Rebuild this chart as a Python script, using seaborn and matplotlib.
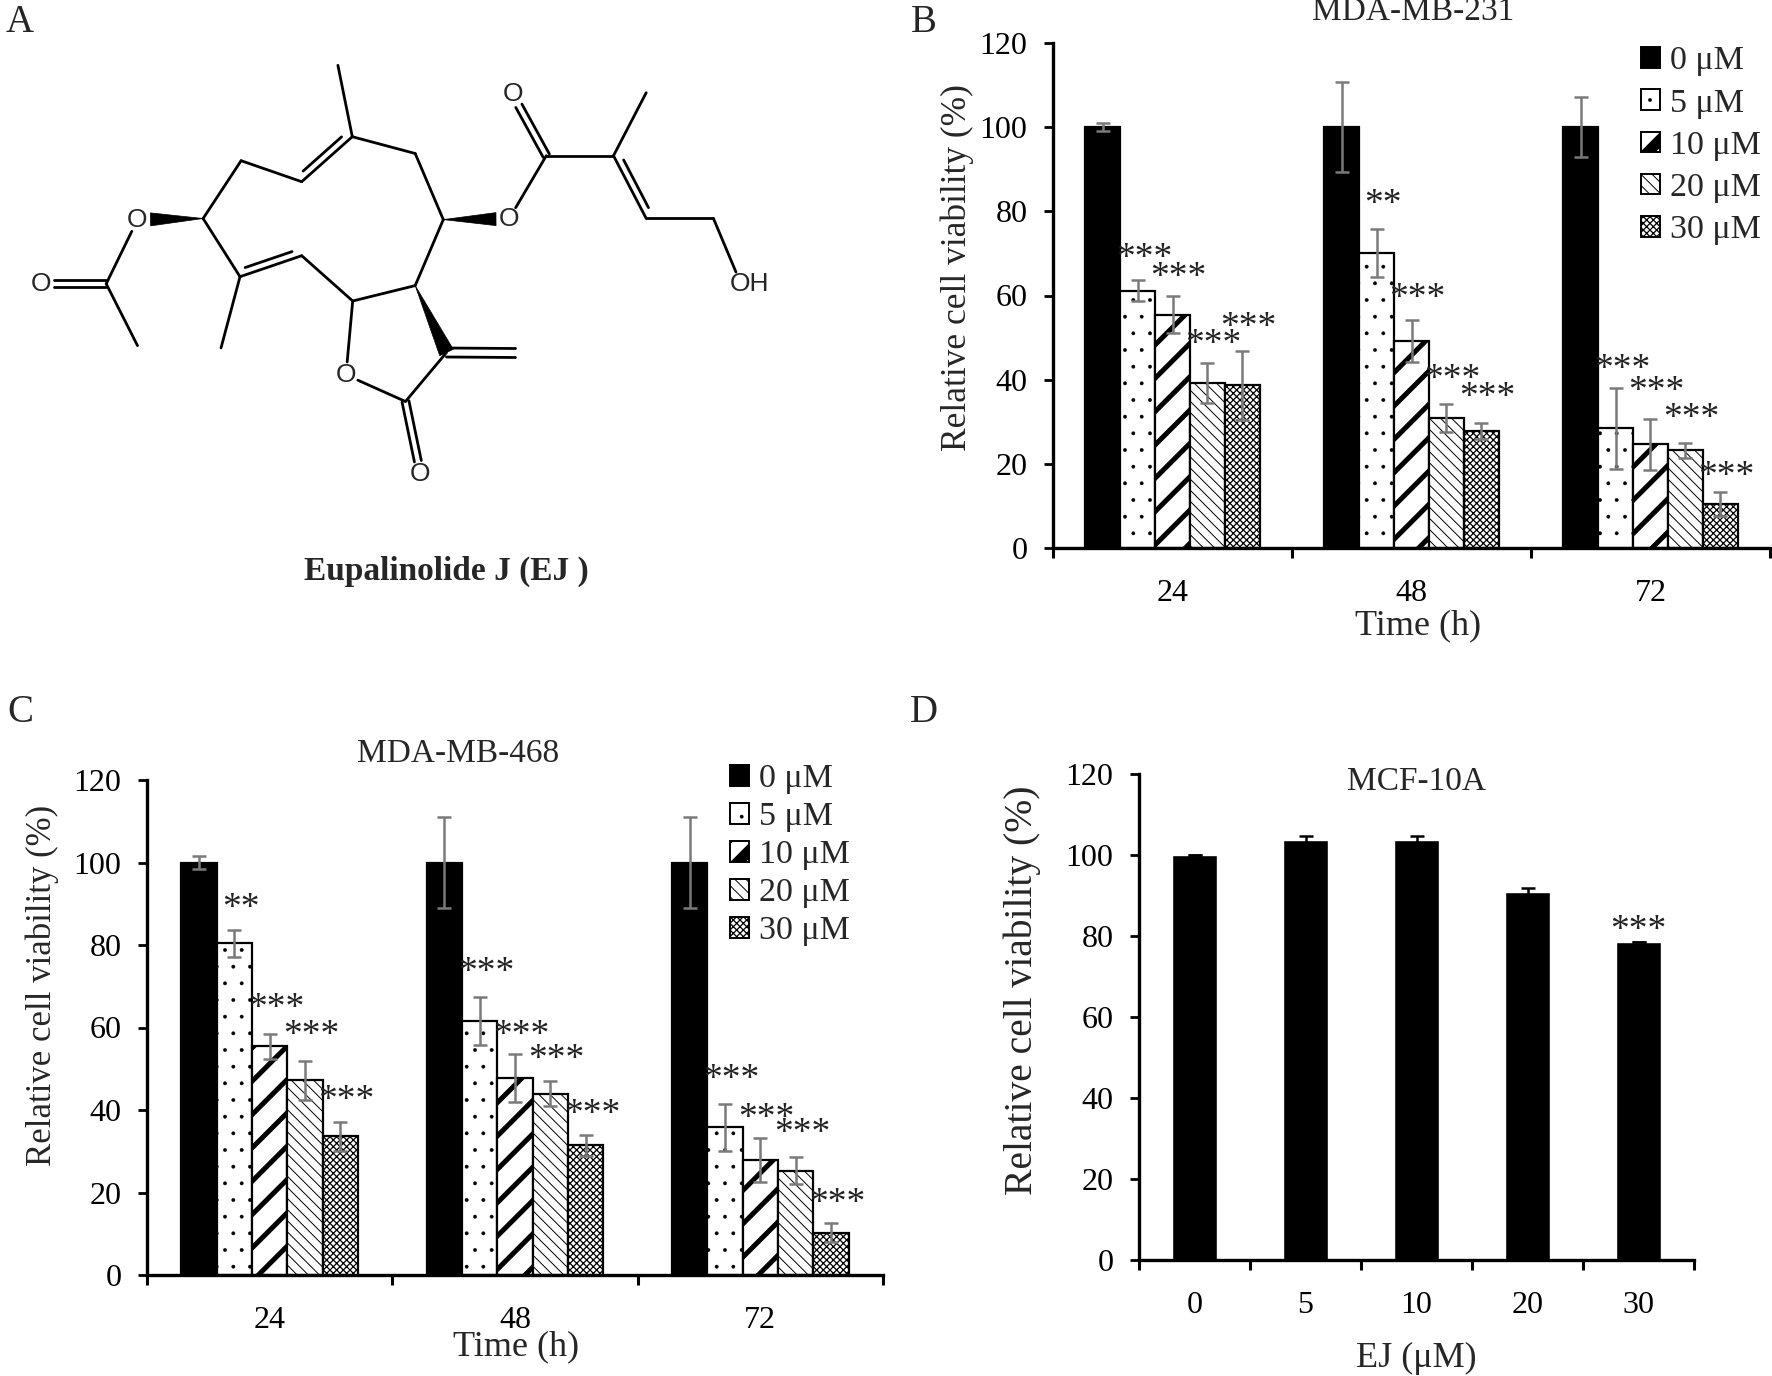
import numpy as np
import pandas as pd
import matplotlib
matplotlib.use("Agg")
import matplotlib.pyplot as plt
import seaborn as sns
from matplotlib.patches import Polygon, Rectangle

# ---------------- data ----------------
times = ["24", "48", "72"]
doses = ["0 μM", "5 μM", "10 μM", "20 μM", "30 μM"]

# Panel B: MDA-MB-231 (mean, sd) per dose over 24/48/72 h
b_mean_0 = [100, 100, 100]
b_mean_5 = [61.1, 70.0, 28.4]
b_mean_10 = [55.4, 49.1, 24.6]
b_mean_20 = [39.2, 30.9, 23.2]
b_mean_30 = [38.7, 27.8, 10.4]
b_sd_0 = [0.9, 10.7, 7.1]
b_sd_5 = [2.5, 5.7, 9.6]
b_sd_10 = [4.4, 5.0, 6.0]
b_sd_20 = [4.8, 3.4, 1.7]
b_sd_30 = [8.2, 2.0, 2.8]
b_star_5 = ["***", "**", "***"]
b_star_10 = ["***", "***", "***"]
b_star_20 = ["***", "***", "***"]
b_star_30 = ["***", "***", "***"]
b_stary_5 = [71.0, 83.9, 44.7]
b_stary_10 = [66.4, 61.4, 39.5]
b_stary_20 = [50.6, 42.2, 32.9]
b_stary_30 = [54.7, 37.9, 19.2]

# Panel C: MDA-MB-468
c_mean_0 = [100, 100, 100]
c_mean_5 = [80.4, 61.6, 35.8]
c_mean_10 = [55.4, 47.7, 27.9]
c_mean_20 = [47.2, 44.0, 25.3]
c_mean_30 = [33.6, 31.4, 10.3]
c_sd_0 = [1.6, 11.0, 11.0]
c_sd_5 = [3.2, 5.8, 5.7]
c_sd_10 = [3.1, 5.8, 5.3]
c_sd_20 = [4.8, 3.0, 3.2]
c_sd_30 = [3.6, 2.5, 2.3]
c_star_5 = ["**", "***", "***"]
c_star_10 = ["***", "***", "***"]
c_star_20 = ["***", "***", "***"]
c_star_30 = ["***", "***", "***"]
c_stary_5 = [91.2, 75.6, 49.6]
c_stary_10 = [66.8, 60.2, 40.3]
c_stary_20 = [60.2, 54.4, 36.6]
c_stary_30 = [44.6, 41.1, 19.6]

# Panel D: MCF-10A
d_doses = ["0", "5", "10", "20", "30"]
d_mean = [100.0, 103.6, 103.6, 90.8, 78.5]
d_sd = [0.0, 1.1, 1.1, 1.1, 0.0]
d_star = ["", "", "", "", "***"]
d_stary = [0, 0, 0, 0, 83.7]

# ---------------- style ----------------
sns.set_theme(style="ticks")
plt.rcParams["font.family"] = ["Liberation Serif", "DejaVu Serif"]
plt.rcParams["hatch.color"] = "black"
plt.rcParams["hatch.linewidth"] = 1.0

W, H = 1772, 1376
fig = plt.figure(figsize=(W / 100, H / 100), dpi=100)
fig.patch.set_facecolor("white")

TICK_FS = 23
TITLE_FS = 24
LEG_FS = 24.5
STAR_FS = 27
LETTER_FS = 28
ERR = "#7a7a7a"

fills = ["black", "white", "white", "white", "white"]
hatches = [None, ".", "/", "\\\\\\", "xxxxx"]
hatch_lws = [1.0, 0.3, 3.6, 0.7, 0.9]


def px_rect(left, top, right, bottom):
    return [left / W, 1 - bottom / H, (right - left) / W, (bottom - top) / H]


def fx(x):
    return x / W


def fy(y):
    return 1 - y / H


def set_hatch(p, h, lw):
    if h:
        p.set_hatch(h)
        if hasattr(p, "set_hatch_linewidth"):
            p.set_hatch_linewidth(lw)


def style_axes(ax, ncat):
    ax.set_ylim(0, 120)
    ax.set_yticks(np.arange(0, 121, 20))
    ax.set_xlim(-0.5, ncat - 0.5)
    ax.set_xticks(np.arange(-0.5, ncat, 1.0), minor=True)
    for s in ["top", "right"]:
        ax.spines[s].set_visible(False)
    for s in ["left", "bottom"]:
        ax.spines[s].set_linewidth(2.4)
        ax.spines[s].set_color("black")
    ax.tick_params(axis="y", direction="out", length=6.5, width=2.0,
                   labelsize=TICK_FS, pad=12, colors="black")
    ax.tick_params(axis="x", which="major", length=0, labelsize=TICK_FS,
                   pad=22, colors="black")
    ax.tick_params(axis="x", which="minor", direction="out", length=7,
                   width=2.2, colors="black")
    ax.set_xlabel("")
    ax.set_ylabel("")
    ax.patch.set_alpha(0)


def grouped_panel(rect, means, sds, stars, stary, width, leg_xy, leg_space):
    ax = fig.add_axes(rect)
    rows = [(t, d, v) for d, m in zip(doses, means) for t, v in zip(times, m)]
    df = pd.DataFrame(rows, columns=["time", "dose", "value"])
    sns.barplot(data=df, x="time", y="value", hue="dose", order=times,
                hue_order=doses, palette=dict(zip(doses, fills)),
                saturation=1, errorbar=None, width=width, gap=0,
                edgecolor="black", linewidth=1.6, legend=False, ax=ax)
    bar_conts = list(ax.containers)
    for k, cont in enumerate(bar_conts):
        for j, bar in enumerate(cont):
            set_hatch(bar, hatches[k], hatch_lws[k])
            xc = bar.get_x() + bar.get_width() / 2
            ax.errorbar(xc, bar.get_height(), yerr=sds[k][j], fmt="none",
                        ecolor=ERR, elinewidth=1.8, capsize=5, capthick=1.8,
                        zorder=4)
            if k > 0 and stars[k - 1][j]:
                ax.annotate(stars[k - 1][j],
                            (xc + 0.18 * bar.get_width(), stary[k - 1][j]),
                            xytext=(0, -0.5 * STAR_FS), textcoords="offset points",
                            ha="center", va="baseline", fontsize=STAR_FS,
                            color="#222222", zorder=6, annotation_clip=False)
    style_axes(ax, len(times))
    ax.set_xticks(range(len(times)))
    ax.set_xticklabels(times)
    handles = []
    for k in range(len(doses)):
        r = Rectangle((0, 0), 1, 1, facecolor=fills[k], edgecolor="black",
                      linewidth=1.4)
        set_hatch(r, hatches[k], hatch_lws[k])
        handles.append(r)
    leg = ax.legend(handles, doses, loc="upper left",
                    bbox_to_anchor=(fx(leg_xy[0]), fy(leg_xy[1])),
                    bbox_transform=fig.transFigure, frameon=False,
                    fontsize=LEG_FS, handlelength=0.55, handleheight=0.55,
                    handletextpad=0.3, labelspacing=leg_space, borderpad=0,
                    borderaxespad=0)
    for k, lh in enumerate(leg.legend_handles):
        set_hatch(lh, hatches[k], hatch_lws[k] * (2.2 if k == 2 else 1.0))
    return ax


# ---------------- Panel A: structure ----------------
axA = fig.add_axes([0, 0, 1, 1])
axA.set_xlim(0, W)
axA.set_ylim(H, 0)
axA.axis("off")

atoms = {
    "Me_ac": (137.5, 345.6), "C_ac": (106.2, 283.8), "O_ac2": (41.1, 283.8),
    "O_ac1": (137.5, 219.6), "C1": (203.1, 218.5), "C2": (241.1, 160.7),
    "C3": (301.7, 181.7), "C4": (352.3, 136.7), "Me4": (337.9, 65.3),
    "C5": (415.2, 153.5), "C6": (443.3, 219.6), "O_es": (509.0, 219.0),
    "C7": (415.2, 285.6), "C8": (352.7, 301.0), "C9": (301.7, 255.7),
    "C10": (240.0, 276.7), "Me10": (221.0, 348.0), "O_lac": (346.0, 374.9),
    "C11": (405.5, 401.5), "O_lac2": (420.5, 474.0), "C12": (446.5, 352.5),
    "CH2": (515.5, 353.0), "C_es": (546.3, 155.7), "O_es2": (512.6, 94.4),
    "Ca": (613.5, 155.7), "Me_a": (646.2, 92.7), "Cb": (646.2, 218.4),
    "Cc": (713.4, 218.4), "OH": (741.0, 284.0),
}
hetero = {"O_ac2", "O_ac1", "O_es", "O_lac", "O_lac2", "O_es2", "OH"}
BLW = 2.0


def seg(a, b):
    p = np.array(atoms[a], float)
    q = np.array(atoms[b], float)
    d = q - p
    u = d / np.linalg.norm(d)
    if a in hetero:
        p = p + u * 13
    if b in hetero:
        q = q - u * 13
    return p, q, u


def single(a, b):
    p, q, _ = seg(a, b)
    axA.plot([p[0], q[0]], [p[1], q[1]], color="black", lw=BLW,
             solid_capstyle="round")


def double(a, b, side=0, off=7.0):
    p, q, u = seg(a, b)
    n = np.array([-u[1], u[0]])
    if side == 0:
        for s in (-0.5, 0.5):
            pp, qq = p + n * s * off, q + n * s * off
            axA.plot([pp[0], qq[0]], [pp[1], qq[1]], color="black", lw=BLW)
    else:
        axA.plot([p[0], q[0]], [p[1], q[1]], color="black", lw=BLW,
                 solid_capstyle="round")
        L = np.linalg.norm(q - p)
        pp = p + u * 0.12 * L + n * side * off
        qq = q - u * 0.12 * L + n * side * off
        axA.plot([pp[0], qq[0]], [pp[1], qq[1]], color="black", lw=BLW)


def wedge(tip, wide, half=6.5):
    p, q, u = seg(tip, wide)
    n = np.array([-u[1], u[0]])
    axA.add_patch(Polygon([p, q + n * half, q - n * half], closed=True,
                          facecolor="black", edgecolor="black", lw=0.5))


for a, b in [("Me_ac", "C_ac"), ("C_ac", "O_ac1"), ("C1", "C2"), ("C2", "C3"),
             ("C4", "Me4"), ("C4", "C5"), ("C5", "C6"), ("C6", "C7"),
             ("C7", "C8"), ("C8", "C9"), ("C10", "C1"), ("C10", "Me10"),
             ("C8", "O_lac"), ("O_lac", "C11"), ("C11", "C12"),
             ("O_es", "C_es"), ("C_es", "Ca"), ("Ca", "Me_a"), ("Cb", "Cc"),
             ("Cc", "OH")]:
    single(a, b)
double("C_ac", "O_ac2")
double("C3", "C4", side=-1)
double("C10", "C9", side=-1)
double("C11", "O_lac2")
double("C12", "CH2", off=9)
double("C_es", "O_es2")
double("Ca", "Cb", side=-1)
wedge("C1", "O_ac1")
wedge("C6", "O_es")
wedge("C7", "C12", half=7.5)

for key in ["O_ac2", "O_ac1", "O_es", "O_lac", "O_lac2", "O_es2"]:
    x, y = atoms[key]
    axA.text(x, y, "O", ha="center", va="center", fontsize=19,
             family=["Liberation Sans", "DejaVu Sans"])
axA.text(atoms["OH"][0] - 11, atoms["OH"][1], "OH", ha="left", va="center",
         fontsize=19, family=["Liberation Sans", "DejaVu Sans"])
axA.text(446, 571, "Eupalinolide J (EJ )", ha="center", va="center",
         fontsize=24, fontweight="bold")

# ---------------- Panel B ----------------
axB = grouped_panel(px_rect(1053, 43, 1770, 548),
                    [b_mean_0, b_mean_5, b_mean_10, b_mean_20, b_mean_30],
                    [b_sd_0, b_sd_5, b_sd_10, b_sd_20, b_sd_30],
                    [b_star_5, b_star_10, b_star_20, b_star_30],
                    [b_stary_5, b_stary_10, b_stary_20, b_stary_30],
                    0.73, (1641, 46), 0.345)
fig.text(fx(1413), fy(20), "MDA-MB-231", ha="center", va="baseline",
         fontsize=TITLE_FS)
fig.text(fx(1418), fy(626), "Time (h)", ha="center", va="center",
         fontsize=26)
fig.text(fx(957), fy(268), "Relative cell viability (%)", rotation=90,
         ha="center", va="center", fontsize=25.5)

# ---------------- Panel C ----------------
axC = grouped_panel(px_rect(147, 780, 883, 1275),
                    [c_mean_0, c_mean_5, c_mean_10, c_mean_20, c_mean_30],
                    [c_sd_0, c_sd_5, c_sd_10, c_sd_20, c_sd_30],
                    [c_star_5, c_star_10, c_star_20, c_star_30],
                    [c_stary_5, c_stary_10, c_stary_20, c_stary_30],
                    0.72, (730, 764), 0.22)
fig.text(fx(458), fy(762), "MDA-MB-468", ha="center", va="baseline",
         fontsize=TITLE_FS)
fig.text(fx(516), fy(1347), "Time (h)", ha="center", va="center",
         fontsize=26)
fig.text(fx(42), fy(985), "Relative cell viability (%)", rotation=90,
         ha="center", va="center", fontsize=25)

# ---------------- Panel D ----------------
axD = fig.add_axes(px_rect(1139, 774, 1694, 1260))
dfd = pd.DataFrame({"dose": d_doses, "value": d_mean})
sns.barplot(data=dfd, x="dose", y="value", order=d_doses, color="black",
            saturation=1, errorbar=None, width=0.40, ax=axD)
d_bars = list(axD.patches)
for bar, sd, st, sy in zip(d_bars, d_sd, d_star, d_stary):
    xc = bar.get_x() + bar.get_width() / 2
    axD.errorbar(xc, bar.get_height(), yerr=sd, fmt="none", ecolor="black",
                 elinewidth=1.8, capsize=5, capthick=1.8, zorder=4)
    if st:
        axD.annotate(st, (xc, sy), xytext=(0, -0.5 * STAR_FS),
                     textcoords="offset points", ha="center", va="baseline",
                     fontsize=STAR_FS, color="#222222", annotation_clip=False)
style_axes(axD, len(d_doses))
axD.set_xticks(range(len(d_doses)))
axD.set_xticklabels(d_doses)
axD.text(0.5, 0.985, "MCF-10A", transform=axD.transAxes,
         ha="center", va="center", fontsize=TITLE_FS)
fig.text(fx(1416), fy(1358), "EJ (μM)", ha="center", va="center", fontsize=26)
fig.text(fx(1022), fy(990), "Relative cell viability (%)", rotation=90,
         ha="center", va="center", fontsize=28.5)

# ---------------- panel letters ----------------
for letter, (x, y) in {"A": (20, 22), "B": (924, 22), "C": (20, 712),
                       "D": (924, 712)}.items():
    fig.text(fx(x), fy(y), letter, ha="center", va="center",
             fontsize=LETTER_FS)

fig.savefig("out.png", dpi=100, facecolor="white")
